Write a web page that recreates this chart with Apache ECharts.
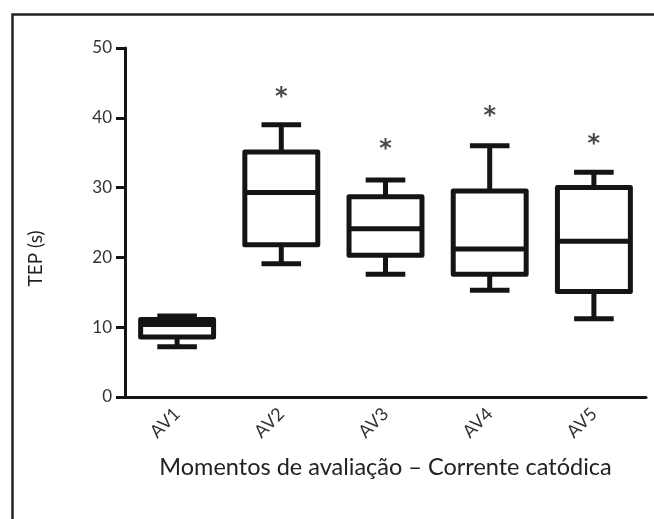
<!DOCTYPE html>
<html>
<head>
<meta charset="utf-8">
<script src="https://cdn.jsdelivr.net/npm/echarts@6/dist/echarts.min.js"></script>
<style>
html,body{margin:0;padding:0;background:#fff;}
#c{width:654px;height:519px;}
</style>
</head>
<body>
<div id="c"></div>
<script>
// Data
var categories = ['AV1', 'AV2', 'AV3', 'AV4', 'AV5'];
var minVals    = [7.2, 19.1, 17.6, 15.3, 11.2];
var q1Vals     = [8.6, 21.8, 20.3, 17.6, 15.1];
var medianVals = [10.4, 29.3, 24.1, 21.2, 22.3];
var q3Vals     = [11.1, 35.1, 28.7, 29.5, 30.0];
var maxVals    = [11.6, 39.0, 31.1, 36.0, 32.2];
var starVals   = [null, 43.6, 36.2, 40.9, 36.8];
var yTicks     = [0, 10, 20, 30, 40, 50];

var boxData = categories.map(function (c, i) {
  return [i, minVals[i], q1Vals[i], medianVals[i], q3Vals[i], maxVals[i]];
});
var starData = categories.map(function (c, i) {
  return starVals[i] == null ? null : [i, starVals[i]];
}).filter(function (d) { return d; });

var chart = echarts.init(document.getElementById('c'), null, {renderer: 'canvas'});
var FONT = 'Lato';
var INK = '#141414';

function renderBox(params, api) {
  var idx = api.value(0);
  var band = api.size([1, 0])[0];
  var cx = api.coord([idx, 0])[0];
  var yMin = api.coord([idx, api.value(1)])[1];
  var yQ1 = api.coord([idx, api.value(2)])[1];
  var yMed = api.coord([idx, api.value(3)])[1];
  var yQ3 = api.coord([idx, api.value(4)])[1];
  var yMax = api.coord([idx, api.value(5)])[1];
  var hw = band * 0.35;
  var cw = band * 0.19;
  var st = {stroke: INK, lineWidth: 5, fill: null, lineCap: 'butt'};
  function line(x1, y1, x2, y2) {
    return {type: 'line', shape: {x1: x1, y1: y1, x2: x2, y2: y2}, style: st};
  }
  return {
    type: 'group',
    children: [
      line(cx, yQ3, cx, yMax),
      line(cx, yQ1, cx, yMin),
      line(cx - cw, yMax, cx + cw, yMax),
      line(cx - cw, yMin, cx + cw, yMin),
      {type: 'rect', shape: {x: cx - hw, y: yQ3, width: hw * 2, height: yQ1 - yQ3},
       style: {stroke: INK, lineWidth: 5, fill: '#fff', lineJoin: 'round'}},
      line(cx - hw, yMed, cx + hw, yMed)
    ]
  };
}

chart.setOption({
  backgroundColor: '#fff',
  animation: false,
  graphic: [{
    type: 'rect', left: 10, top: 12, z: 100,
    shape: {x: 0, y: 0, width: 700, height: 600},
    style: {fill: null, stroke: '#222', lineWidth: 2.5}
  }],
  grid: {left: 125, right: 8, top: 48, bottom: 122},
  xAxis: {
    type: 'category',
    data: categories,
    boundaryGap: true,
    name: 'Momentos de avaliação – Corrente catódica',
    nameLocation: 'middle',
    nameGap: 58,
    nameTextStyle: {fontFamily: FONT, fontSize: 23.5, color: '#222'},
    axisLine: {lineStyle: {color: INK, width: 3}},
    axisTick: {alignWithLabel: true, length: 11, lineStyle: {color: INK, width: 3}},
    axisLabel: {rotate: 45, fontFamily: FONT, fontSize: 18, color: '#333', margin: 14}
  },
  yAxis: {
    type: 'value',
    min: yTicks[0],
    max: yTicks[yTicks.length - 1],
    interval: 10,
    name: 'TEP (s)',
    nameLocation: 'middle',
    nameRotate: 90,
    nameGap: 80,
    nameTextStyle: {fontFamily: FONT, fontSize: 19, color: '#222', padding: [0, 72, 0, 0]},
    axisLine: {show: true, lineStyle: {color: INK, width: 3}},
    axisTick: {show: true, length: 9, lineStyle: {color: INK, width: 3}},
    splitLine: {show: false},
    axisLabel: {fontFamily: FONT, fontSize: 17, color: '#333', margin: 13}
  },
  series: [
    {
      type: 'custom',
      renderItem: renderBox,
      encode: {x: 0, y: [1, 2, 3, 4, 5]},
      data: boxData
    },
    {
      type: 'scatter',
      symbolSize: 1,
      itemStyle: {color: 'rgba(0,0,0,0)'},
      label: {
        show: true, position: 'inside', formatter: '*',
        fontFamily: 'DejaVu Sans', fontWeight: 'bold', fontSize: 24, color: '#1a1a1a', offset: [0, 5]
      },
      data: starData
    }
  ]
});
</script>
</body>
</html>
